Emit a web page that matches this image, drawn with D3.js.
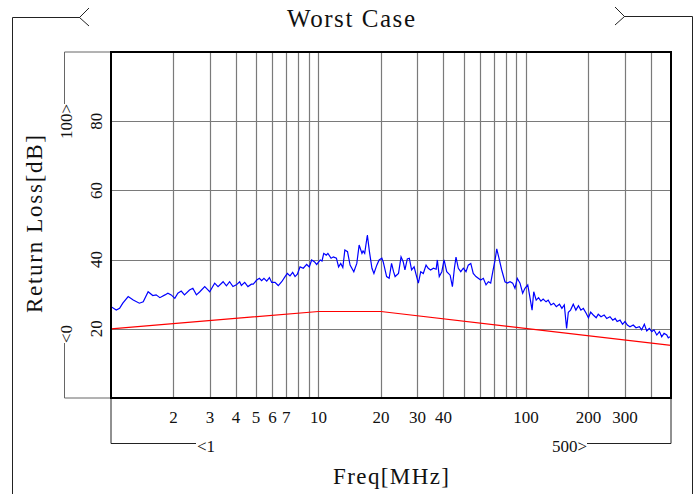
<!DOCTYPE html>
<html>
<head>
<meta charset="utf-8">
<script src="https://cdn.jsdelivr.net/npm/d3@7"></script>
<style>
  body { margin: 0; background: #fff; }
  text { font-family: "Liberation Serif", serif; fill: #111; }
</style>
</head>
<body>
<svg id="chart" width="700" height="494"></svg>
<script>
// measured return loss, worst case
const freq = [1.00, 1.06, 1.10, 1.14, 1.21, 1.28, 1.37, 1.43, 1.51, 1.59, 1.65, 1.72, 1.82, 1.88, 1.95,
    2.03, 2.10, 2.18, 2.26, 2.39, 2.48, 2.58, 2.68, 2.83, 2.94, 2.99, 3.16, 3.28, 3.47, 3.60, 3.73, 3.87,
    4.02, 4.17, 4.25, 4.41, 4.57, 4.75, 4.85, 5.04, 5.19, 5.32, 5.46, 5.63, 5.80, 5.95, 6.17, 6.40, 6.65,
    6.90, 7.08, 7.29, 7.51, 7.71, 7.91, 8.15, 8.45, 8.77, 9.03, 9.27, 9.55, 9.80, 10.2, 10.4, 10.6, 10.9,
    11.1, 11.5, 11.8, 12.2, 12.5, 12.8, 13.1, 13.4, 13.8, 14.2, 14.8, 15.3, 15.7, 16.2, 16.4, 16.7, 17.2,
    17.6, 18.1, 18.5, 19.1, 19.6, 20.2, 20.5, 21.3, 21.9, 22.5, 23.0, 23.4, 24.3, 25.0, 25.6, 26.1, 26.8,
    27.4, 28.1, 28.9, 29.5, 30.3, 31.1, 32.0, 33.0, 33.8, 34.7, 35.8, 36.9, 37.4, 38.2, 39.3, 40.3, 41.5,
    43.1, 44.2, 45.2, 46.0, 47.2, 48.5, 49.9, 51.4, 52.7, 54.2, 55.7, 57.4, 58.9, 60.5, 62.3, 64.2, 65.9,
    67.6, 69.2, 71.0, 72.3, 74.1, 76.4, 79.2, 81.3, 83.8, 86.3, 88.5, 90.8, 93.6, 96.4, 98.9, 102, 104,
    107, 109, 112, 115, 118, 121, 125, 128, 132, 136, 140, 145, 149, 153, 157, 160, 164, 169, 174, 179,
    184, 189, 195, 200, 205, 211, 218, 223, 230, 238, 245, 254, 262, 269, 275, 284, 292, 300, 308, 317,
    329, 339, 352, 361, 372, 382, 393, 404, 414, 427, 440, 451, 463, 477, 485, 494];
const returnLoss = [26.4, 25.4, 25.9, 27.4, 29.3, 28.3, 27.4, 27.8, 30.7, 29.6, 29.8, 29.0, 29.8, 30.3, 29.8,
    28.8, 30.3, 30.9, 29.8, 31.2, 31.7, 29.8, 30.7, 32.2, 31.2, 30.7, 33.2, 32.2, 33.6, 32.4, 33.6, 32.2,
    32.7, 33.6, 32.5, 33.4, 32.2, 32.9, 32.9, 34.1, 34.6, 33.9, 34.6, 33.8, 34.8, 33.4, 33.4, 32.5, 33.6,
    35.1, 36.0, 35.3, 36.3, 35.1, 35.8, 37.9, 37.5, 38.6, 37.9, 39.9, 39.4, 38.6, 39.9, 39.6, 41.8, 41.3,
    41.8, 40.4, 40.8, 40.4, 37.9, 38.9, 37.7, 42.8, 42.3, 38.4, 36.5, 38.9, 44.2, 41.8, 42.5, 41.8, 47.1,
    42.3, 37.5, 36.0, 38.4, 39.9, 40.4, 39.4, 35.1, 34.6, 38.9, 36.5, 35.1, 36.0, 40.8, 39.4, 37.0, 40.2,
    40.4, 37.0, 37.9, 35.8, 33.2, 36.5, 36.0, 38.4, 37.5, 37.0, 37.5, 37.2, 39.9, 35.1, 36.5, 39.9, 36.5,
    35.5, 32.2, 37.5, 40.7, 37.5, 36.5, 37.5, 36.5, 38.4, 38.9, 36.0, 35.1, 34.6, 34.1, 34.6, 32.7, 33.6,
    33.2, 36.5, 39.9, 43.1, 40.4, 37.0, 33.6, 33.2, 33.6, 33.2, 31.7, 34.6, 33.2, 30.3, 31.7, 32.7, 29.8,
    25.4, 30.7, 28.3, 29.0, 28.0, 28.6, 27.8, 28.3, 26.9, 27.4, 26.4, 27.1, 25.9, 26.9, 20.1, 24.8, 25.4,
    27.1, 25.4, 26.7, 25.4, 25.9, 24.5, 23.2, 24.8, 24.0, 23.2, 24.2, 23.5, 24.0, 23.0, 23.5, 22.5, 23.0,
    22.1, 22.5, 21.3, 22.1, 21.1, 20.6, 21.1, 20.3, 20.6, 19.7, 21.3, 19.4, 20.1, 19.2, 19.7, 18.2, 19.2,
    17.7, 18.7, 18.2, 17.4, 17.7];

// limit line
const limitFreq = [1, 10, 20, 500];
const limitLoss = [20, 25, 25, 15.2];

const gridFreqs = [2, 3, 4, 5, 6, 7, 8, 9, 10, 20, 30, 40, 50, 60, 70, 80, 90, 100, 200, 300, 400];
const freqLabels = [2, 3, 4, 5, 6, 7, 10, 20, 30, 40, 100, 200, 300];
const lossTicks = [20, 40, 60, 80];

const svg = d3.select("#chart");
const pLeft = 111, pRight = 671, pTop = 52, pBottom = 398;

const x = d3.scaleLog().domain([1, 500]).range([pLeft, pRight]);
const y = d3.scaleLinear().domain([0, 100]).range([pBottom, pTop]);

// outer frame lines with chevrons
svg.append("path")
    .attr("d", "M12.5,494 V17.5 H80 M89,8 L79.5,17.5 L89,26")
    .attr("fill", "none").attr("stroke", "#222").attr("stroke-width", 1);
svg.append("path")
    .attr("d", "M692.5,494 V16.5 H624 M615,7 L624.5,16.5 L615,25")
    .attr("fill", "none").attr("stroke", "#222").attr("stroke-width", 1);

svg.append("text")
    .attr("x", 351).attr("y", 27)
    .attr("text-anchor", "middle")
    .attr("font-size", 25)
    .attr("textLength", 128).attr("lengthAdjust", "spacing")
    .text("Worst Case");

// y range bracket
svg.append("path")
    .attr("d", `M${pLeft},${pTop} H64.5 V104 M64.5,343 V${pBottom} H${pLeft}`)
    .attr("fill", "none").attr("stroke", "#666").attr("stroke-width", 1);
svg.append("text")
    .attr("transform", "translate(72,104) rotate(-90)")
    .attr("text-anchor", "end").attr("font-size", 17)
    .text("100>");
svg.append("text")
    .attr("transform", "translate(72,343) rotate(-90)")
    .attr("text-anchor", "start").attr("font-size", 17)
    .text("<0");

// x range bracket
svg.append("path")
    .attr("d", `M${pLeft},${pBottom} V443.5 H196 M${pRight},${pBottom} V443.5 H587`)
    .attr("fill", "none").attr("stroke", "#222").attr("stroke-width", 1);
svg.append("text")
    .attr("x", 197).attr("y", 452).attr("font-size", 17)
    .text("<1");
svg.append("text")
    .attr("x", 587).attr("y", 452).attr("text-anchor", "end").attr("font-size", 17)
    .text("500>");

// grid
svg.append("g")
    .selectAll("line")
    .data(gridFreqs)
    .enter()
    .append("line")
    .attr("x1", (d) => Math.round(x(d)) + 0.5)
    .attr("x2", (d) => Math.round(x(d)) + 0.5)
    .attr("y1", pTop).attr("y2", pBottom)
    .attr("stroke", "#7a7a7a").attr("stroke-width", 1.2);

svg.append("g")
    .selectAll("line")
    .data(lossTicks)
    .enter()
    .append("line")
    .attr("x1", pLeft).attr("x2", pRight)
    .attr("y1", (d) => Math.round(y(d)) + 0.5)
    .attr("y2", (d) => Math.round(y(d)) + 0.5)
    .attr("stroke", "#7a7a7a").attr("stroke-width", 1.2);

// tick labels
svg.append("g")
    .selectAll("text")
    .data(freqLabels)
    .enter()
    .append("text")
    .attr("x", (d) => x(d))
    .attr("y", 423)
    .attr("text-anchor", "middle")
    .attr("font-size", 17)
    .text((d) => d);

svg.append("g")
    .selectAll("text")
    .data(lossTicks)
    .enter()
    .append("text")
    .attr("transform", (d) => `translate(102,${y(d)}) rotate(-90)`)
    .attr("text-anchor", "middle")
    .attr("font-size", 17)
    .text((d) => d);

// axis titles
svg.append("text")
    .attr("x", 391).attr("y", 484)
    .attr("text-anchor", "middle").attr("font-size", 23)
    .attr("textLength", 116).attr("lengthAdjust", "spacing")
    .text("Freq[MHz]");
svg.append("text")
    .attr("transform", "translate(42,224) rotate(-90)")
    .attr("text-anchor", "middle").attr("font-size", 23)
    .attr("textLength", 178).attr("lengthAdjust", "spacing")
    .text("Return Loss[dB]");

// data lines
svg.append("clipPath").attr("id", "plot")
    .append("rect").attr("x", pLeft).attr("y", pTop)
    .attr("width", pRight - pLeft).attr("height", pBottom - pTop);

const line = d3.line().x((d) => x(d[0])).y((d) => y(d[1]));

svg.append("path")
    .datum(limitFreq.map((f, i) => [f, limitLoss[i]]))
    .attr("d", line)
    .attr("fill", "none").attr("stroke", "#ff0000").attr("stroke-width", 1.2)
    .attr("clip-path", "url(#plot)");

svg.append("path")
    .datum(freq.map((f, i) => [f, returnLoss[i]]))
    .attr("d", line)
    .attr("fill", "none").attr("stroke", "#0000ff").attr("stroke-width", 1.2)
    .attr("clip-path", "url(#plot)");

// plot frame
svg.append("rect")
    .attr("x", pLeft).attr("y", pTop)
    .attr("width", pRight - pLeft).attr("height", pBottom - pTop)
    .attr("fill", "none").attr("stroke", "#000").attr("stroke-width", 2);
</script>
</body>
</html>
